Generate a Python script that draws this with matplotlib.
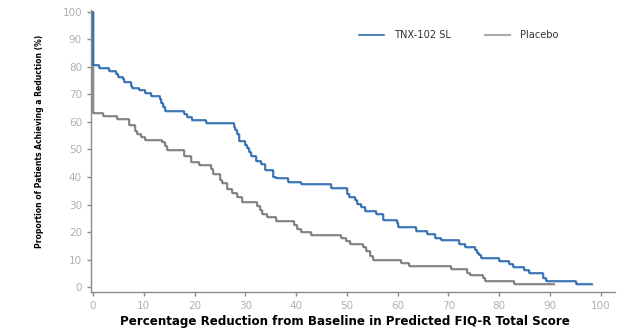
import matplotlib
matplotlib.use("Agg")
import matplotlib.pyplot as plt
import matplotlib.patheffects as pe

# step points (x = % reduction where the step starts, y = proportion %)
tnx_x = [0, 0, 1.1, 3.1, 4.5, 4.9, 5.9, 6.2, 7.4, 7.7, 9.0, 10.3, 11.5, 13.1, 13.4, 13.7,
         14.1, 18.0, 18.6, 19.4, 22.3, 27.7, 28.0, 28.4, 28.8, 29.9, 30.3, 30.7, 31.1, 32.1,
         33.0, 33.8, 35.4, 36.0, 38.4, 41.0, 46.8, 50.1, 50.4, 51.6, 52.0, 52.8, 53.5, 55.7,
         57.2, 59.8, 60.1, 63.7, 65.8, 67.3, 68.5, 72.1, 73.2, 75.2, 75.6, 76.0, 76.5, 80.0,
         82.0, 82.7, 84.8, 85.9, 88.6, 89.2, 95.1, 98.2]
tnx_y = [100, 80.7, 79.5, 78.5, 77.3, 76.5, 75.5, 74.7, 73.2, 72.5, 71.5, 70.5, 69.6, 68.2,
         66.8, 65.6, 64.0, 62.8, 61.8, 60.7, 59.5, 58.3, 57.1, 55.6, 53.2, 51.6, 50.4, 49.2,
         47.6, 45.9, 44.7, 42.5, 40.1, 39.6, 38.3, 37.3, 36.1, 34.0, 32.8, 31.6, 30.2, 29.0,
         27.8, 26.5, 24.3, 23.4, 21.8, 20.3, 19.1, 17.9, 17.0, 15.8, 14.7, 13.5, 12.5, 11.6,
         10.4, 9.5, 8.5, 7.4, 6.2, 5.0, 3.4, 2.2, 1.0, 1.0]

pbo_x = [0, 0, 2.0, 4.7, 7.0, 8.2, 8.6, 9.4, 10.2, 13.5, 14.2, 14.5, 18.0, 19.3, 20.8, 23.3,
         23.6, 25.0, 25.5, 26.3, 27.3, 28.3, 29.4, 32.3, 32.8, 33.3, 34.3, 36.0, 39.6, 40.1,
         40.9, 42.9, 48.8, 49.8, 50.7, 53.1, 53.7, 54.5, 55.1, 60.6, 62.3, 70.6, 73.7, 74.2,
         76.8, 77.2, 82.9, 90.8]
pbo_y = [100, 63.3, 62.2, 61.2, 58.9, 56.8, 55.7, 54.7, 53.5, 52.6, 51.1, 49.8, 47.6, 45.6,
         44.4, 42.8, 41.1, 39.0, 37.7, 35.7, 34.2, 32.7, 31.0, 29.4, 28.0, 26.5, 25.3, 24.1,
         22.5, 21.0, 19.9, 18.9, 17.7, 16.7, 15.6, 14.4, 13.2, 11.3, 9.8, 8.8, 7.6, 6.4, 5.2,
         4.4, 3.2, 2.1, 1.0, 1.0]

xticks = list(range(0, 101, 10))
yticks = list(range(0, 101, 10))

fig = plt.figure(figsize=(6.34, 3.29), dpi=100)
ax = fig.add_axes([0.1435, 0.1125, 0.8265, 0.857])

ax.step(pbo_x, pbo_y, where="post", color="#6e6e6e", lw=1.1,
        path_effects=[pe.SimpleLineShadow(offset=(0.7, -0.7), shadow_color="#cfcfcf", alpha=1), pe.Normal()])
ax.step(tnx_x, tnx_y, where="post", color="#1c5ea8", lw=1.1,
        path_effects=[pe.SimpleLineShadow(offset=(0.7, -0.7), shadow_color="#a8c7e6", alpha=1), pe.Normal()])

ax.set_xlim(-0.4, 102.8)
ax.set_ylim(-1.8, 100.7)
ax.set_xticks(xticks)
ax.set_yticks(yticks)

for s in ["top", "right"]:
    ax.spines[s].set_visible(False)
for s in ["left", "bottom"]:
    ax.spines[s].set_color("#8a8a8a")
    ax.spines[s].set_linewidth(1.0)
ax.tick_params(colors="#8a8a8a", labelcolor="#b0b0b0", labelsize=7.5, length=3, width=1)

ax.set_xlabel("Percentage Reduction from Baseline in Predicted FIQ-R Total Score",
              fontsize=8.6, fontweight="bold")
ax.xaxis.set_label_coords(0.484, -0.082)
ax.set_ylabel("Proportion of Patients Achieving a Reduction (%)",
              fontsize=5.5, fontweight="bold")
ax.yaxis.set_label_coords(-0.09, 0.534)

h1, = ax.plot([], [], color="#1c5ea8", lw=1.1)
h2, = ax.plot([], [], color="#aaaaaa", lw=1.5)
ax.legend([h1, h2], ["TNX-102 SL", "Placebo"], ncol=2, frameon=False,
          loc="center left", bbox_to_anchor=(0.503, 0.911), borderpad=0,
          handlelength=2.5, handletextpad=1.0, columnspacing=3.5,
          prop={"size": 7.1}, labelcolor="#333333")

fig.savefig("out.png", dpi=100)
